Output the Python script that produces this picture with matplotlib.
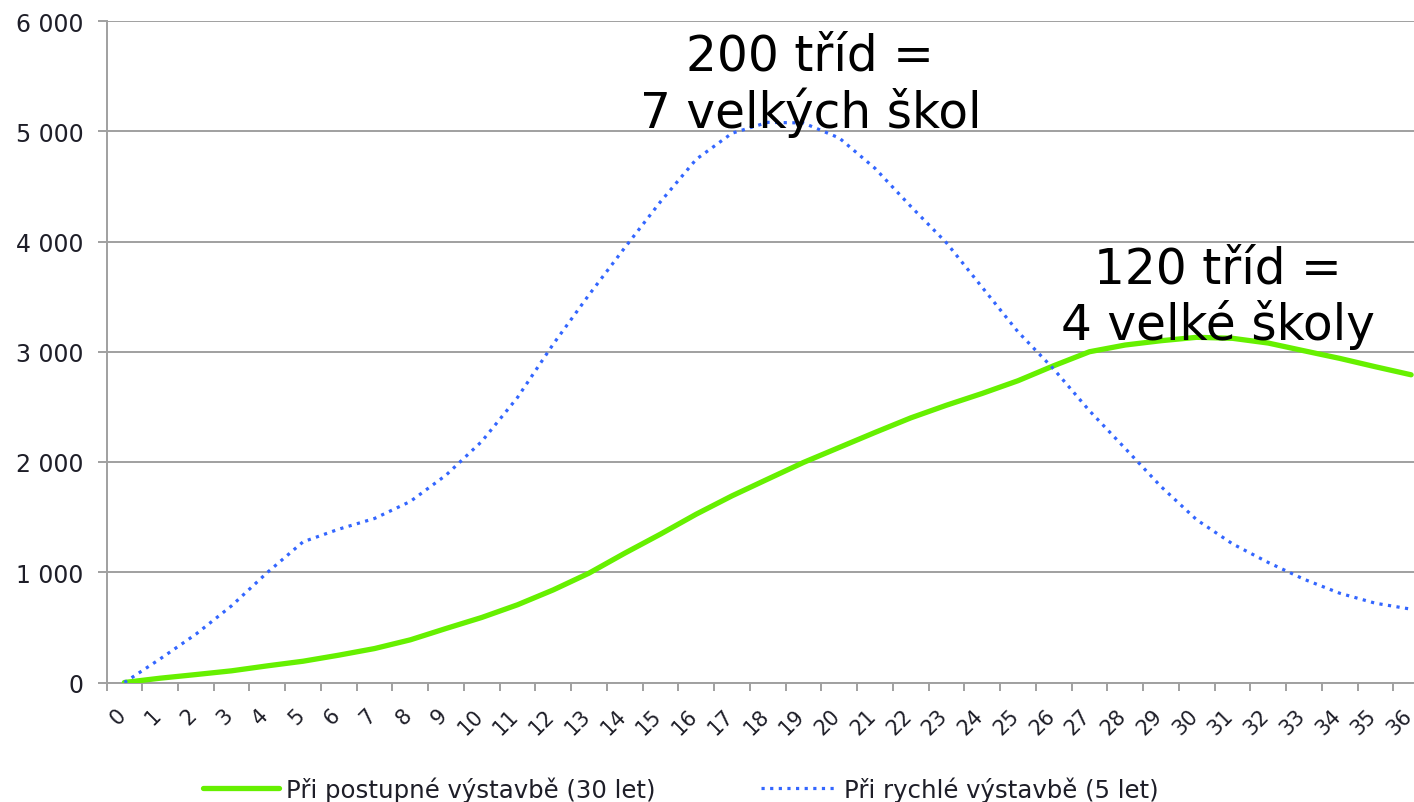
import matplotlib
matplotlib.use("Agg")
import matplotlib.pyplot as plt
from matplotlib.transforms import ScaledTranslation
from matplotlib.ticker import FuncFormatter

# ---- data ----
years = list(range(0, 37))
postupna = [0, 39, 72, 106, 151, 193, 248, 308, 387, 490, 590, 705, 840, 992,
            1173, 1346, 1527, 1693, 1845, 1996, 2132, 2268, 2400, 2515, 2622,
            2737, 2873, 3000, 3061, 3100, 3131, 3122, 3079, 3009, 2940, 2864, 2791]
rychla = [0, 214, 438, 696, 998, 1276, 1391, 1488, 1642, 1881, 2187, 2586, 3070,
          3517, 3944, 4361, 4746, 4982, 5081, 5075, 4939, 4664, 4319, 3988, 3584,
          3181, 2843, 2465, 2123, 1778, 1476, 1258, 1089, 937, 810, 719, 665]
series_labels = ["Při postupné výstavbě (30 let)", "Při rychlé výstavbě (5 let)"]
y_ticks = [0, 1000, 2000, 3000, 4000, 5000, 6000]
annot1 = ["200 tříd =", "7 velkých škol"]
annot2 = ["120 tříd =", "4 velké školy"]

W, H = 1414, 803
fig = plt.figure(figsize=(W / 100, H / 100), dpi=100)
plt.rcParams['font.family'] = ['DejaVu Sans']

left_px, right_px, top_px, bottom_px = 106.5, 1429.0, 22.0, 683.5
ax = fig.add_axes([left_px / W, 1 - bottom_px / H,
                   (right_px - left_px) / W, (bottom_px - top_px) / H])

grid_col = '#A0A0A0'
text_col = '#1E1E28'

l1, = ax.plot(years, postupna, color='#66F000', lw=3.8, solid_capstyle='round',
              solid_joinstyle='round', label=series_labels[0], zorder=3)
l2, = ax.plot(years, rychla, color='#3366FF', lw=2.3, linestyle=(0, (1, 1.7)),
              dash_capstyle='butt', label=series_labels[1], zorder=3)

ax.set_xlim(-0.5, 36.5)
ax.set_ylim(0, 6000)
ax.set_yticks(y_ticks)
ax.yaxis.set_major_formatter(FuncFormatter(lambda v, p: f"{int(v):,}".replace(",", " ")))
ax.grid(axis='y', color=grid_col, lw=1.4)
ax.set_axisbelow(True)

for s in ['top', 'right']:
    ax.spines[s].set_visible(False)
for s in ['left', 'bottom']:
    ax.spines[s].set_color(grid_col)
    ax.spines[s].set_linewidth(1.4)

ax.tick_params(axis='y', length=6.5, width=1.4, color=grid_col, pad=10,
               labelsize=17, labelcolor=text_col)
ax.set_xticks(years)
ax.set_xticklabels([str(y) for y in years], rotation=45, ha='right', va='top')
ax.set_xticks([i - 0.5 for i in range(38)], minor=True)
ax.tick_params(axis='x', which='major', length=0, pad=16, labelsize=15,
               labelcolor=text_col)
ax.tick_params(axis='x', which='minor', length=6, width=1.4, color=grid_col)
off = ScaledTranslation(5 / 100, 0, fig.dpi_scale_trans)
for lab in ax.get_xticklabels():
    lab.set_transform(lab.get_transform() + off)

# annotations
afs = 35
for txt, (cx, by) in zip(annot1, [(810, 70.7), (811, 128)]):
    fig.text(cx / W, 1 - by / H, txt, ha='center', va='baseline', fontsize=afs, color='black')
for txt, (cx, by) in zip(annot2, [(1218, 283), (1218, 340)]):
    fig.text(cx / W, 1 - by / H, txt, ha='center', va='baseline', fontsize=afs, color='black')

leg = fig.legend(handles=[l1, l2], loc='center', bbox_to_anchor=(681 / W, 1 - 790 / H),
                 ncol=2, frameon=False, fontsize=17.6, handlelength=3.1,
                 handletextpad=0.3, columnspacing=4.3, borderpad=0)
for t in leg.get_texts():
    t.set_color(text_col)

fig.savefig("out.png", dpi=100)
